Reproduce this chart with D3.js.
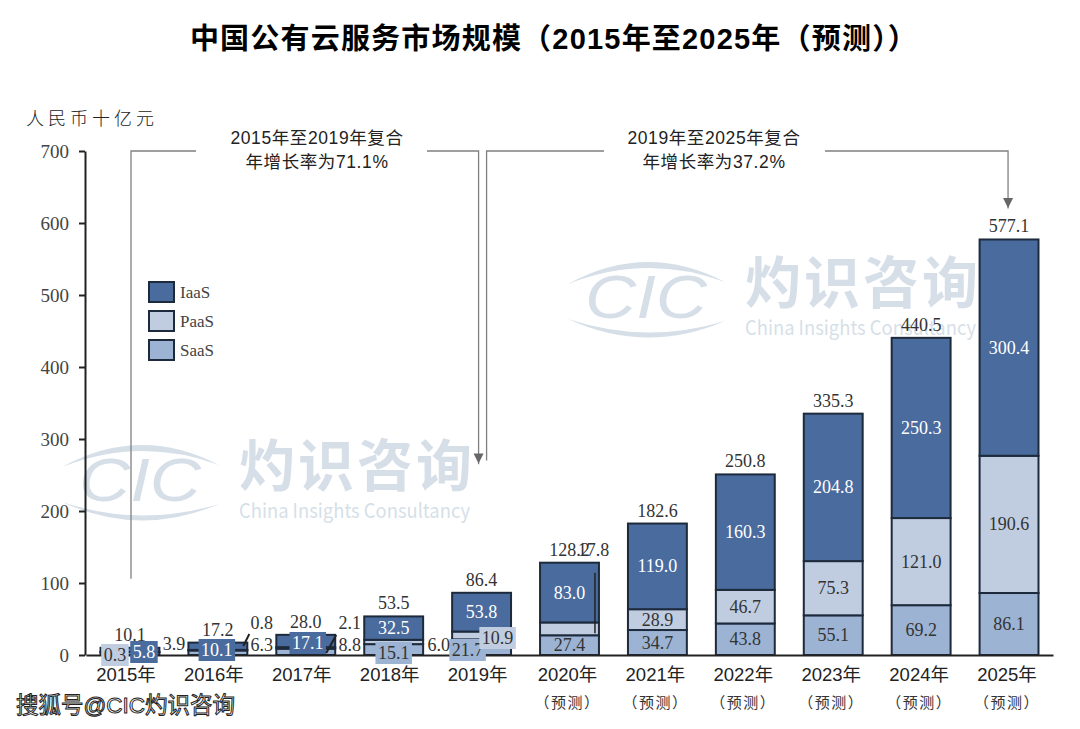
<!DOCTYPE html>
<html>
<head>
<meta charset="utf-8">
<script src="https://d3js.org/d3.v7.min.js"></script>
<style>
  body { margin: 0; background: #fff; }
  svg { display: block; }
  .serif { font-family: "Liberation Serif", serif; }
  .sans { font-family: "Liberation Sans", "Noto Sans CJK SC", sans-serif; }
  .cjk { font-family: "Noto Sans CJK SC", sans-serif; }
  .y-axis text { font: 19px "Liberation Serif", serif; fill: #444; }
  .x-axis text { font: 18.5px "Liberation Sans", "Noto Sans CJK SC", sans-serif; fill: #222; }
  .y-axis line, .y-axis path, .x-axis path { stroke: #222; stroke-width: 2; }
</style>
</head>
<body>
<svg id="chart" width="1080" height="729"></svg>
<script>
const years = ["2015", "2016", "2017", "2018", "2019", "2020", "2021", "2022", "2023", "2024", "2025"];
const iaas = [5.8, 10.1, 17.1, 32.5, 53.8, 83.0, 119.0, 160.3, 204.8, 250.3, 300.4];
const paas = [0.3, 0.8, 2.1, 6.0, 10.9, 17.8, 28.9, 46.7, 75.3, 121.0, 190.6];
const saas = [3.9, 6.3, 8.8, 15.1, 21.7, 27.4, 34.7, 43.8, 55.1, 69.2, 86.1];
const totals = [10.1, 17.2, 28.0, 53.5, 86.4, 128.2, 182.6, 250.8, 335.3, 440.5, 577.1];
const forecastYears = ["2020", "2021", "2022", "2023", "2024", "2025"];
const yTicks = [0, 100, 200, 300, 400, 500, 600, 700];
const seriesNames = ["IaaS", "PaaS", "SaaS"];

const colors = { IaaS: "#4a6b9e", PaaS: "#c0cde1", SaaS: "#9cb3d3" };
const watermark = "#d6dfe8";
const guide = "#808080";

const rows = years.map((year, i) => ({ year, IaaS: iaas[i], PaaS: paas[i], SaaS: saas[i], total: totals[i] }));

const svg = d3.select("#chart");

const x = d3.scaleBand().domain(years).range([86, 1053]).paddingInner(0.33).paddingOuter(0.165);
const y = d3.scaleLinear().domain([0, 700]).range([655, 151]);

// the small bars have their labels pushed around, offsets from bar centre / baseline
const moved = {
  "2015": { IaaS: [14, -3, 1], PaaS: [-15, 0, 1], SaaS: [44, -11, 0] },
  "2016": { IaaS: [-1, -5, 1], PaaS: [44, -32, 0], SaaS: [44, -10, 0] },
  "2017": { IaaS: [2, -12, 1], PaaS: [44, -32, 0], SaaS: [44, -10, 0] },
  "2018": { PaaS: [45, -10, 0], SaaS: [0, -2, 1] },
  "2019": { PaaS: [16, -17, 1], SaaS: [-14, -5, 1] },
  "2020": { PaaS: [24, -105, 0] }
};

// watermarks sit under everything
const drawWatermark = (left, top) => {
  const g = svg.append("g").attr("transform", `translate(${left},${top})`);
  g.append("path").attr("fill", watermark).attr("d", "M0,29Q78,-14 157,27Q78,-2 0,29Z");
  g.append("path").attr("fill", watermark).attr("d", "M0,64Q78,100 157,66Q78,90 0,64Z");
  g.append("text").attr("class", "sans").attr("x", 78).attr("y", 63)
    .attr("text-anchor", "middle").attr("font-size", 62).attr("font-style", "italic")
    .attr("textLength", 122).attr("lengthAdjust", "spacingAndGlyphs")
    .attr("fill", watermark).text("CIC");
  g.append("text").attr("class", "cjk").attr("x", 177).attr("y", 48)
    .attr("font-size", 56).attr("font-weight", 700).attr("letter-spacing", 3)
    .attr("fill", watermark).text("灼识咨询");
  g.append("text").attr("class", "cjk").attr("x", 177).attr("y", 80)
    .attr("font-size", 20).attr("textLength", 231).attr("lengthAdjust", "spacingAndGlyphs")
    .attr("fill", watermark).text("China Insights Consultancy");
};
drawWatermark(568, 255);
drawWatermark(62, 438);

// title
svg.append("text").attr("class", "sans").attr("x", 554).attr("y", 49)
  .attr("text-anchor", "middle").attr("font-size", 29).attr("font-weight", 700)
  .attr("letter-spacing", 1.2).attr("fill", "#000")
  .text("中国公有云服务市场规模（2015年至2025年（预测））");

svg.append("text").attr("class", "cjk").attr("x", 26).attr("y", 125)
  .attr("font-size", 18).attr("font-weight", 300).attr("letter-spacing", 4)
  .attr("fill", "#222").text("人民币十亿元");

// bars
const stack = d3.stack().keys(["SaaS", "PaaS", "IaaS"])(rows);

svg.append("g").selectAll("g").data(stack).join("g")
  .attr("fill", d => colors[d.key])
  .selectAll("rect").data(d => d).join("rect")
  .attr("x", d => x(d.data.year))
  .attr("width", x.bandwidth())
  .attr("y", d => y(d[1]))
  .attr("height", d => y(d[0]) - y(d[1]))
  .attr("stroke", "#1d2a3c")
  .attr("stroke-width", 2);

// axes
svg.append("g").attr("class", "y-axis")
  .attr("transform", `translate(${x.range()[0] - 1},0)`)
  .call(d3.axisLeft(y).tickValues(yTicks).tickSize(6).tickSizeOuter(0).tickPadding(10));

const xAxis = svg.append("g").attr("class", "x-axis")
  .attr("transform", `translate(0,${y(0)})`)
  .call(d3.axisBottom(x).tickSize(0).tickSizeOuter(0).tickPadding(13).tickFormat(d => d + "年"));
xAxis.selectAll(".tick text").attr("dx", d => +d < 2020 ? -4 : -2);

svg.append("g").selectAll("text").data(forecastYears).join("text")
  .attr("class", "cjk")
  .attr("x", d => x(d) + x.bandwidth() / 2 - 2)
  .attr("y", 708)
  .attr("text-anchor", "middle")
  .attr("font-size", 15)
  .attr("letter-spacing", 1.5)
  .attr("fill", "#333")
  .text("（预测）");

// totals
svg.append("g").selectAll("text").data(rows).join("text")
  .attr("class", "serif")
  .attr("x", d => x(d.year) + x.bandwidth() / 2)
  .attr("y", d => y(d.total) - 7)
  .attr("text-anchor", "middle")
  .attr("font-size", 18)
  .attr("fill", "#333")
  .text(d => d.total.toFixed(1));

// segment labels
const segLabels = svg.append("g");
stack.forEach(layer => {
  layer.forEach(d => {
    const year = d.data.year;
    const key = layer.key;
    const nudge = (moved[year] || {})[key];
    const cx = x(year) + x.bandwidth() / 2 + (nudge ? nudge[0] : 0);
    const cy = nudge ? y(0) + nudge[1] : (y(d[0]) + y(d[1])) / 2;
    const hasBox = nudge && nudge[2];
    const light = key === "IaaS" && (!nudge || hasBox);
    const g = segLabels.append("g");
    const label = g.append("text")
      .attr("class", "serif")
      .attr("x", cx)
      .attr("y", cy + 6)
      .attr("text-anchor", "middle")
      .attr("font-size", 18)
      .attr("fill", light ? "#fff" : "#333")
      .text(d.data[key].toFixed(1));
    if (hasBox) {
      const w = label.node().getComputedTextLength() + 5;
      g.insert("rect", "text")
        .attr("x", cx - w / 2)
        .attr("y", cy - 11)
        .attr("width", w)
        .attr("height", 22)
        .attr("fill", colors[key]);
    }
  });
});

// leader lines for the labels outside the bars
const barRight = year => x(year) + x.bandwidth();
const leaders = svg.append("g").attr("stroke", "#222").attr("stroke-width", 2).attr("fill", "none");
leaders.append("line")
  .attr("x1", barRight("2016") - 4).attr("y1", y(0) - 9)
  .attr("x2", barRight("2016") + 2).attr("y2", y(0) - 21);
leaders.append("line")
  .attr("x1", barRight("2017") - 9).attr("y1", y(0) - 2)
  .attr("x2", barRight("2017") + 1).attr("y2", y(0) - 20);
leaders.append("line")
  .attr("stroke-width", 1.5)
  .attr("x1", barRight("2020") - 4).attr("y1", y(128.2) + 10)
  .attr("x2", barRight("2020") - 4).attr("y2", y(27.4) - 2);

// CAGR brackets
const guides = svg.append("g").attr("fill", "none").attr("stroke", guide).attr("stroke-width", 1.3);
const midX = year => x(year) + x.bandwidth() / 2;
guides.append("path").attr("d", `M131,${y(106)}V${y(700)}H196`);
guides.append("path").attr("d", `M427,${y(700)}H${midX("2019") - 3}V${y(265)}`);
guides.append("path").attr("d", `M${midX("2019") + 5},${y(270)}V${y(700)}H604`);
guides.append("path").attr("d", `M825,${y(700)}H${midX("2025") - 1}V${y(620)}`);

const arrow = (ax, tip) => svg.append("path").attr("fill", "#666")
  .attr("d", `M${ax - 5},${tip - 10}H${ax + 5}L${ax},${tip}Z`);
arrow(midX("2019") - 3, y(266));
arrow(midX("2025") - 1, y(621));

const cagrText = (cx, a, b) => {
  [a, b].forEach((line, i) => {
    svg.append("text").attr("class", "sans")
      .attr("x", cx).attr("y", 144 + i * 24)
      .attr("text-anchor", "middle").attr("font-size", 17.5)
      .attr("letter-spacing", 0.6).attr("fill", "#222")
      .text(line);
  });
};
cagrText(317, "2015年至2019年复合", "年增长率为71.1%");
cagrText(714, "2019年至2025年复合", "年增长率为37.2%");

// legend
const legend = svg.append("g").selectAll("g").data(seriesNames).join("g")
  .attr("transform", (d, i) => `translate(149,${282 + i * 29})`);
legend.append("rect").attr("width", 25).attr("height", 20)
  .attr("fill", d => colors[d]).attr("stroke", "#1d2a3c").attr("stroke-width", 2);
legend.append("text").attr("class", "serif").attr("x", 31).attr("y", 16)
  .attr("font-size", 17).attr("fill", "#444").text(d => d);

// site mark at the bottom left
svg.append("text").attr("class", "sans").attr("x", 16).attr("y", 713)
  .attr("font-size", 22.5)
  .attr("fill", "#fff").attr("stroke", "#222").attr("stroke-width", 1)
  .text("搜狐号@CIC灼识咨询");
</script>
</body>
</html>
